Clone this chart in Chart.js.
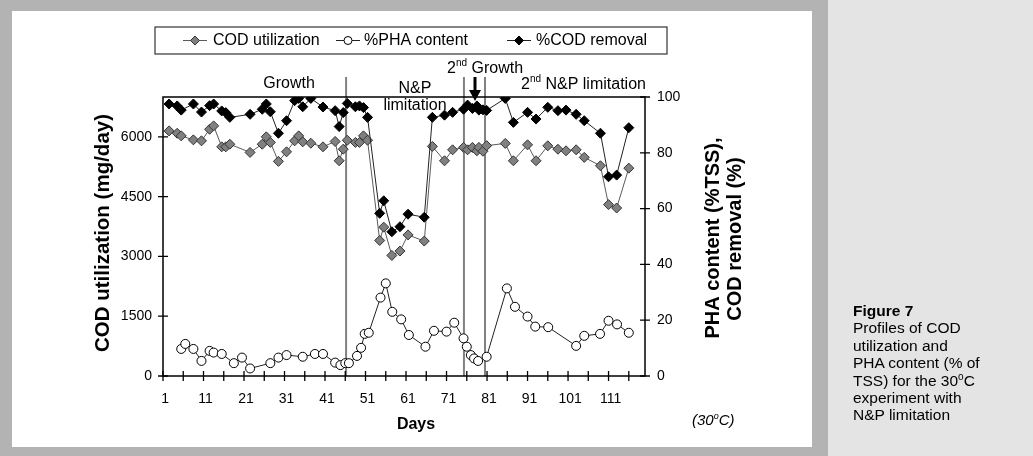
<!DOCTYPE html>
<html>
<head>
<meta charset="utf-8">
<script src="https://cdn.jsdelivr.net/npm/chart.js@4.4.1/dist/chart.umd.min.js"></script>
<style>
  html, body { margin:0; padding:0; }
  body { width:1033px; height:456px; position:relative; overflow:hidden; background:#b3b3b3; font-family:'Liberation Sans', Arial, sans-serif; }
  #white { position:absolute; left:12px; top:11px; width:800px; height:436px; background:#fff; }
  #panel { position:absolute; left:828px; top:0; width:205px; height:456px; background:#e4e4e4; }
  #cv { position:absolute; left:0; top:0; }
  #caption { position:absolute; left:853px; top:302px; font-size:15.5px; line-height:17.4px; color:#000; }
  #caption b { font-weight:bold; }
  #caption sup { font-size:10px; vertical-align:6px; line-height:0; }
</style>
</head>
<body>
<div id="white"></div>
<div id="panel"></div>
<canvas id="cv" width="1033" height="456"></canvas>
<div id="caption"><b>Figure 7</b><br>Profiles of COD<br>utilization and<br>PHA content (% of<br>TSS) for the 30<sup>o</sup>C<br>experiment with<br>N&amp;P limitation</div>
<script>
// ---------- data ----------
const codDays = [2,4,5,8,10,12,13,15,16,17,22,25,26,27,29,31,33,34,35,37,40,43,44,45,46,48,49,50,51,54,55,57,59,61,65,67,70,72,74.7,75.7,76.9,78,78.5,79.5,80.4,85,87,90.5,92.6,95.5,98,100,102.5,104.5,108.5,110.5,112.5,115.5];
const codUtilization = [6150,6090,6025,5925,5900,6190,6275,5750,5750,5815,5610,5815,6000,5860,5385,5625,5900,6025,5875,5840,5750,5885,5400,5690,5915,5860,5860,6025,5915,3400,3735,3025,3135,3540,3385,5760,5400,5675,5735,5675,5735,5650,5735,5640,5780,5835,5400,5800,5400,5775,5690,5650,5675,5485,5275,4300,4215,5215];
const codRemoval = [97.5,96.8,95.3,97.5,94.6,96.9,97.5,95.0,94.4,92.7,93.8,95.6,97.5,94.7,87.0,91.5,98.7,99.5,96.5,99.5,96.4,95.1,89.4,94.4,97.7,96.5,96.8,96.2,92.7,58.3,62.8,51.7,53.5,58.0,56.9,92.7,93.5,94.5,95.6,97.1,95.9,96.8,95.3,95.4,95.2,99.5,90.9,94.5,92.1,96.3,95.1,95.3,93.8,91.5,87.0,71.4,72.0,89.0];
const phaDays = [5,6,8,10,12,13,15,18,20,22,27,29,31,35,38,40,43,44.3,45.5,46.4,48.4,49.4,50.3,51.3,54.2,55.5,57.1,59.3,61.2,65.3,67.4,70.5,72.4,74.7,75.5,76.5,77.3,78.3,80.4,85.4,87.4,90.5,92.4,95.6,102.5,104.5,108.4,110.5,112.6,115.5];
const phaContent = [9.7,11.5,9.7,5.4,9.0,8.4,7.9,4.6,6.6,2.7,4.6,6.6,7.5,6.9,7.9,7.9,4.8,3.9,4.6,4.6,7.2,10.1,15.1,15.5,28.1,33.2,23.0,20.3,14.7,10.5,16.2,15.9,19.1,13.5,10.5,7.5,6.3,5.4,6.9,31.4,24.8,21.3,17.7,17.5,10.8,14.4,15.1,19.8,18.5,15.5];
const xTickLabels = [1,11,21,31,41,51,61,71,81,91,101,111];
const xTickMarks = [0.5,5.5,10.5,15.5,20.5,25.5,30.5,35.5,40.5,45.5,50.5,55.5,60.5,65.5,70.5,75.5,80.5,85.5,90.5,95.5,100.5,105.5,110.5,115.5];
const leftTicks = [0,1500,3000,4500,6000];
const rightTicks = [0,20,40,60,80,100];
const phaseLines = [45.7,74.8,80.0];
const seriesNames = ['COD utilization','%PHA content','%COD removal'];

const FONT = "'Liberation Sans', Arial, sans-serif";
Chart.defaults.font.family = FONT;
Chart.defaults.color = '#000';

function pts(xs, ys){ return xs.map((x,i)=>({x:x, y:ys[i]})); }

const styles = [
  {pointStyle:'rectRot', radius:5, bg:'#808080', border:'#333333', line:'#5a5a5a'},
  {pointStyle:'circle', radius:4.5, bg:'#ffffff', border:'#000000', line:'#222222'},
  {pointStyle:'rectRot', radius:5, bg:'#000000', border:'#000000', line:'#222222'}
];

function txt(ctx, s, x, y, font, align){
  ctx.font = font; ctx.textAlign = align || 'center'; ctx.textBaseline = 'middle'; ctx.fillStyle = '#000';
  ctx.fillText(s, x, y);
}
function supText(ctx, parts, x, y, size){
  ctx.textBaseline = 'middle'; ctx.textAlign = 'left'; ctx.fillStyle = '#000';
  let cx = x;
  parts.forEach(p => {
    const fs = p[1] ? Math.round(size*0.62) : size;
    ctx.font = (p[2]||'') + ' ' + fs + 'px ' + FONT;
    ctx.fillText(p[0], cx, p[1] ? y - size*0.33 : y);
    cx += ctx.measureText(p[0]).width;
  });
}

const overlay = {
  id: 'overlay',
  beforeDatasetsDraw(chart){
    const ctx = chart.ctx, X = chart.scales.x, ca = chart.chartArea;
    ctx.save();
    ctx.strokeStyle = '#808080'; ctx.lineWidth = 2;
    phaseLines.forEach(d => {
      const px = X.getPixelForValue(d);
      ctx.beginPath(); ctx.moveTo(px, 77); ctx.lineTo(px, ca.bottom); ctx.stroke();
    });
    ctx.restore();
  },
  afterDraw(chart){
    const ctx = chart.ctx, X = chart.scales.x, Y = chart.scales.y, Y2 = chart.scales.y2, ca = chart.chartArea;
    ctx.save();
    ctx.strokeStyle = '#000'; ctx.lineWidth = 1.5;
    ctx.strokeRect(ca.left, ca.top, ca.right - ca.left, ca.bottom - ca.top);
    ctx.lineWidth = 1.3;
    ctx.beginPath();
    xTickMarks.forEach(v => { const p = X.getPixelForValue(v); ctx.moveTo(p, ca.bottom - 5); ctx.lineTo(p, ca.bottom + 5); });
    leftTicks.forEach(v => { const p = Y.getPixelForValue(v); ctx.moveTo(ca.left - 5, p); ctx.lineTo(ca.left + 5, p); });
    rightTicks.forEach(v => { const p = Y2.getPixelForValue(v); ctx.moveTo(ca.right - 5, p); ctx.lineTo(ca.right + 5, p); });
    ctx.stroke();

    // legend
    ctx.lineWidth = 1.2; ctx.strokeStyle = '#333';
    ctx.strokeRect(155, 27, 512, 27);
    const legX = [[183, 213], [336, 364], [507, 536]];
    chart.data.datasets.forEach((ds, i) => {
      const st = styles[i];
      const [lx, tx] = legX[i];
      ctx.strokeStyle = st.line; ctx.lineWidth = 1;
      ctx.beginPath(); ctx.moveTo(lx, 40.5); ctx.lineTo(lx + 24, 40.5); ctx.stroke();
      ctx.fillStyle = st.bg; ctx.strokeStyle = st.border; ctx.lineWidth = 1;
      Chart.helpers.drawPoint(ctx, {pointStyle: st.pointStyle, radius: st.radius - 0.5, borderWidth: 1, rotation: 0}, lx + 12, 40.5);
      txt(ctx, seriesNames[i], tx, 41, '16px ' + FONT, 'left');
    });

    txt(ctx, 'Growth', 289, 84, '16px ' + FONT);
    txt(ctx, 'N&P', 415, 89, '16px ' + FONT);
    txt(ctx, 'limitation', 415, 106, '16px ' + FONT);
    supText(ctx, [['2',false],['nd',true],[' Growth',false]], 447, 69, 16);
    supText(ctx, [['2',false],['nd',true],[' N&P limitation',false]], 521, 85, 16);
    ctx.strokeStyle = '#000'; ctx.fillStyle = '#000'; ctx.lineWidth = 3;
    ctx.beginPath(); ctx.moveTo(475, 77); ctx.lineTo(475, 92); ctx.stroke();
    ctx.beginPath(); ctx.moveTo(469, 90); ctx.lineTo(481, 90); ctx.lineTo(475, 101); ctx.closePath(); ctx.fill();

    ctx.save(); ctx.translate(103, 233); ctx.rotate(-Math.PI/2);
    txt(ctx, 'COD utilization (mg/day)', 0, 0, 'bold 20.5px ' + FONT); ctx.restore();
    ctx.save(); ctx.translate(713, 238); ctx.rotate(-Math.PI/2);
    txt(ctx, 'PHA content (%TSS),', 0, 0, 'bold 20px ' + FONT); ctx.restore();
    ctx.save(); ctx.translate(735, 239); ctx.rotate(-Math.PI/2);
    txt(ctx, 'COD removal (%)', 0, 0, 'bold 20px ' + FONT); ctx.restore();
    txt(ctx, 'Days', 416, 425, 'bold 16px ' + FONT);
    supText(ctx, [['(30',false,'italic'],['o',true,'italic'],['C)',false,'italic']], 692, 421, 15);
    ctx.restore();
  }
};

new Chart(document.getElementById('cv'), {
  type: 'scatter',
  data: {
    datasets: [
      {label: seriesNames[0], data: pts(codDays, codUtilization), yAxisID: 'y', order: 3},
      {label: seriesNames[1], data: pts(phaDays, phaContent), yAxisID: 'y2', order: 2},
      {label: seriesNames[2], data: pts(codDays, codRemoval), yAxisID: 'y2', order: 1}
    ].map((d, i) => Object.assign(d, {
      showLine: true, tension: 0, borderWidth: 1, borderColor: styles[i].line,
      pointStyle: styles[i].pointStyle, pointRadius: styles[i].radius, pointHoverRadius: styles[i].radius,
      pointBackgroundColor: styles[i].bg, pointBorderColor: styles[i].border, pointBorderWidth: 1
    }))
  },
  options: {
    responsive: false, animation: false, devicePixelRatio: 1,
    layout: {padding: {top: 97, left: 0, right: 0, bottom: 0}},
    plugins: {legend: {display: false}, tooltip: {enabled: false}},
    scales: {
      x: {
        type: 'linear', position: 'bottom', min: 0.5, max: 119.5,
        grid: {display: false, drawTicks: false}, border: {display: false},
        afterBuildTicks: s => { s.ticks = xTickLabels.map(v => ({value: v})); },
        afterFit: s => { s.height = 80; },
        ticks: {autoSkip: false, maxRotation: 0, padding: 15, font: {size: 14}, color: '#000', callback: v => String(v)}
      },
      y: {
        type: 'linear', position: 'left', min: 0, max: 7000,
        grid: {display: false, drawTicks: false}, border: {display: false},
        afterBuildTicks: s => { s.ticks = leftTicks.map(v => ({value: v})); },
        afterFit: s => { s.width = 163; },
        ticks: {padding: 11, font: {size: 14}, color: '#000', callback: v => String(v)}
      },
      y2: {
        type: 'linear', position: 'right', min: 0, max: 100,
        grid: {display: false, drawTicks: false}, border: {display: false},
        afterBuildTicks: s => { s.ticks = rightTicks.map(v => ({value: v})); },
        afterFit: s => { s.width = 388; },
        ticks: {padding: 12, font: {size: 14}, color: '#000', callback: v => String(v)}
      }
    }
  },
  plugins: [overlay]
});
</script>
</body>
</html>
